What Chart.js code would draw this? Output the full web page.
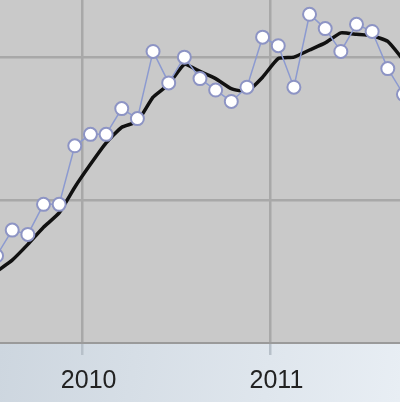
<!DOCTYPE html>
<html>
<head>
<meta charset="utf-8">
<script src="https://cdn.jsdelivr.net/npm/chart.js@4/dist/chart.umd.min.js"></script>
<style>
  html, body { margin: 0; padding: 0; background: #dfe6ed; }
  canvas { display: block; }
</style>
</head>
<body>
<canvas id="chart" width="400" height="402"></canvas>
<script>
// monthly readings, Jul 2009 .. Sep 2011 (no y labels visible, arbitrary units)
const months = ['2009-07','2009-08','2009-09','2009-10','2009-11','2009-12',
  '2010-01','2010-02','2010-03','2010-04','2010-05','2010-06','2010-07','2010-08','2010-09','2010-10','2010-11','2010-12',
  '2011-01','2011-02','2011-03','2011-04','2011-05','2011-06','2011-07','2011-08','2011-09']
const monthly = [61, 79, 76, 97, 97, 138, 146, 146, 164, 157, 204, 182, 200, 185, 177, 169, 179, 214,
  208, 179, 230, 220, 204, 223, 218, 192, 174]
const trend = [50, 58, 69, 81, 91, 109, 125, 140, 151, 155, 172, 181, 195, 190, 185, 178, 176, 186,
  199, 200, 205, 210, 217, 216, 215, 211, 198]
const yearTicks = [2010, 2011]
const valueTicks = [100, 200]

// mid-month position on a year axis
const xOf = m => {
  const [y, mo] = m.split('-').map(Number)
  return y + (mo - 0.5) / 12
}

const bgPlugin = {
  id: 'bg',
  beforeDraw(chart) {
    const { ctx, chartArea: a, width, height } = chart
    ctx.save()
    const g = ctx.createLinearGradient(0, a.bottom, width, height)
    g.addColorStop(0, '#cdd6df')
    g.addColorStop(1, '#e8eef4')
    ctx.fillStyle = g
    ctx.fillRect(0, 0, width, height)
    ctx.fillStyle = '#c9c9c9'
    ctx.fillRect(a.left, a.top, a.right - a.left, a.bottom - a.top)
    ctx.restore()
  }
}

new Chart(document.getElementById('chart'), {
  type: 'line',
  data: {
    datasets: [
      {
        label: 'monthly',
        data: months.map((m, i) => ({ x: xOf(m), y: monthly[i] })),
        borderColor: '#8c9ad0',
        borderWidth: 1.5,
        pointRadius: 6.5,
        pointBorderWidth: 2,
        pointBackgroundColor: '#ffffff',
        pointBorderColor: '#8d94c4',
        tension: 0,
        order: 0,
      },
      {
        label: 'trend',
        data: months.map((m, i) => ({ x: xOf(m), y: trend[i] })),
        borderColor: '#111111',
        borderWidth: 3.5,
        pointRadius: 0,
        tension: 0.15,
        order: 1,
      },
    ],
  },
  options: {
    responsive: false,
    animation: false,
    layout: { autoPadding: false, padding: 0 },
    plugins: {
      legend: { display: false },
      tooltip: { enabled: false },
    },
    scales: {
      x: {
        type: 'linear',
        min: 2009.56,
        max: 2011.69,
        afterBuildTicks: axis => { axis.ticks = yearTicks.map(v => ({ value: v })) },
        afterFit: axis => { axis.height = 59 },
        ticks: {
          callback: v => String(v),
          color: '#222222',
          font: { family: 'Liberation Sans, Arial, sans-serif', size: 25 },
          padding: 11,
          labelOffset: 6,
          maxRotation: 0,
          autoSkip: false,
        },
        grid: { color: '#a8a8a8', lineWidth: 2.5, tickLength: 12, tickColor: '#b7c0c9' },
        border: { display: true, color: '#9a9a9a', width: 2 },
      },
      y: {
        min: 0,
        max: 240,
        afterBuildTicks: axis => { axis.ticks = valueTicks.map(v => ({ value: v })) },
        afterFit: axis => { axis.width = 0 },
        ticks: { display: false },
        grid: { color: '#a8a8a8', lineWidth: 2.5, drawTicks: false },
        border: { display: false },
      },
    },
  },
  plugins: [bgPlugin],
})
</script>
</body>
</html>
